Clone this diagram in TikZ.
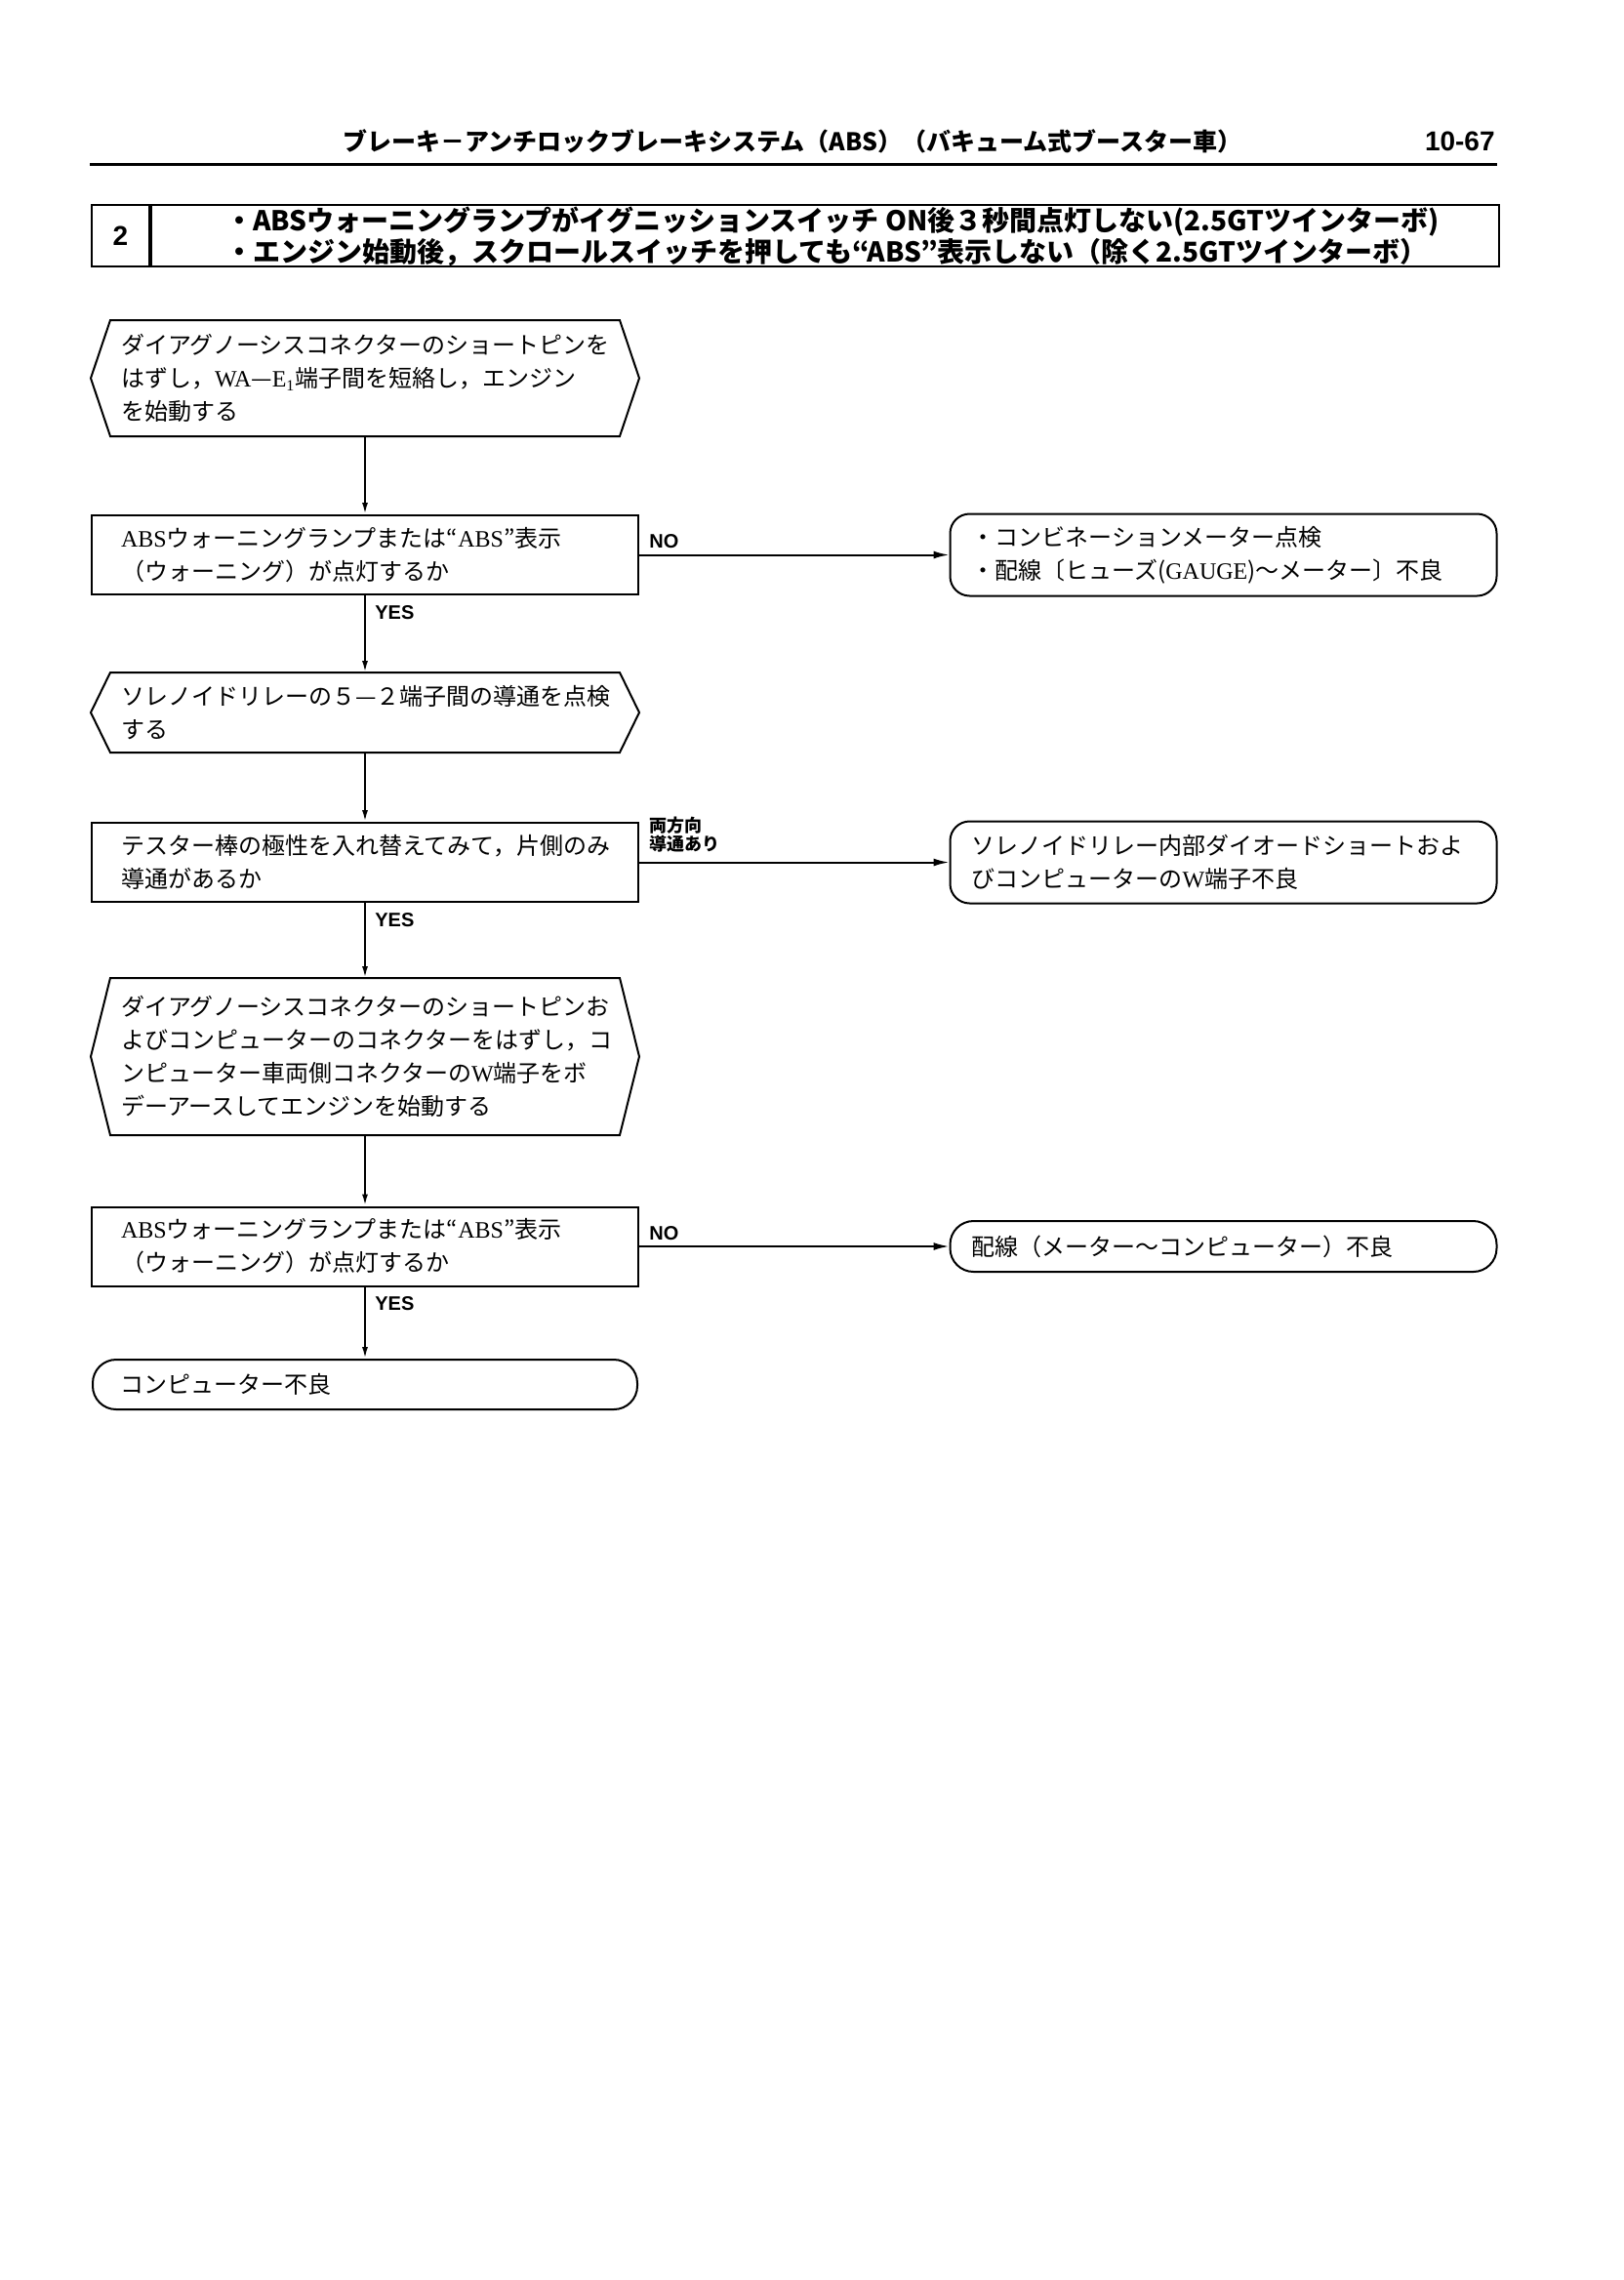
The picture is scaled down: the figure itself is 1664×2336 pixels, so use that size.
\documentclass[tikz,border=0pt]{standalone}
\usepackage{fontspec}
\usepackage{tikz}
\usetikzlibrary{positioning,arrows.meta}
\newfontfamily\jpfont{Noto Sans CJK JP}
\newfontfamily\lsans{Liberation Sans}
\newfontfamily\lserif{Liberation Serif}
\newcommand\lat[1]{{\lserif #1}}

\begin{document}
\begin{tikzpicture}[x=0.5pt,y=-0.5pt,
    every node/.style={inner sep=0pt},
    jp/.style={font=\jpfont\fontsize{12pt}{17pt}\selectfont},
    stepbox/.style={jp,draw,line width=1pt,minimum width=280pt,text width=250pt,inner xsep=15pt,align=left},
    hexbox/.style={stepbox,draw=none},
    result/.style={jp,draw,line width=1pt,rounded corners=10pt,minimum width=280pt,text width=258pt,inner xsep=11pt,align=left},
    yn/.style={font=\lsans\bfseries\fontsize{10pt}{10pt}\selectfont},
    flow/.style={line width=1pt,-{Latex[length=8pt,width=4pt]}},
    down/.style={line width=1pt,-{Latex[length=6pt,width=3pt]}}]
  \useasboundingbox[fill=white] (0,0) rectangle (1664,2336);

  % page head
  \node[font=\jpfont\bfseries\fontsize{12.5pt}{14pt}\selectfont] (head) at (812,145) {ブレーキ－アンチロックブレーキシステム（ABS）（バキューム式ブースター車）};
  \node[font=\lsans\bfseries\fontsize{14pt}{14pt}\selectfont,anchor=east] (page) at (1532,145) {10-67};
  \draw[line width=1.5pt] (92,168) -- (1534,168);

  % trouble title
  \node[draw,line width=1pt,minimum width=29.5pt,minimum height=31.5pt,font=\lsans\bfseries\fontsize{14pt}{14pt}\selectfont] (num) at (123.5,241.5) {2};
  \node[draw,line width=1pt,minimum width=690.5pt,minimum height=31.5pt,right=0pt of num] (title) {};
  \node[anchor=west,align=left,font=\jpfont\bfseries\fontsize{14pt}{14pt}\selectfont] (titletext) at (231,242)
    {・ABSウォーニングランプがイグニッションスイッチ ON後３秒間点灯しない(2.5GTツインターボ)\\
     ・エンジン始動後，スクロールスイッチを押しても“ABS”表示しない（除く2.5GTツインターボ）};

  % steps
  \node[hexbox,minimum height=58.5pt] (s1) at (374,387.5)
    {ダイアグノーシスコネクターのショートピンを\\はずし，\lat{WA}—\lat{E\textsubscript{1}}端子間を短絡し，エンジン\\を始動する};
  \node[stepbox,minimum height=40.5pt] (b2) at (374,568.5)
    {\lat{ABS}ウォーニングランプまたは“\lat{ABS}”表示\\（ウォーニング）が点灯するか};
  \node[result,minimum height=42pt] (r1) at (1253.5,568.5)
    {・コンビネーションメーター点検\\・配線〔ヒューズ(\lat{GAUGE})～メーター〕不良};
  \node[hexbox,minimum height=40pt] (s3) at (374,730)
    {\mbox{ソレノイドリレーの５—２端子間の導通を点検}\\する};
  \node[stepbox,minimum height=40.5pt] (b4) at (374,883.5)
    {テスター棒の極性を入れ替えてみて，片側のみ\\導通があるか};
  \node[result,minimum height=42pt] (r2) at (1253.5,883.5)
    {ソレノイドリレー内部ダイオードショートおよ\\びコンピューターの\lat{W}端子不良};
  \node[hexbox,minimum height=79.5pt] (s5) at (374,1082.5)
    {ダイアグノーシスコネクターのショートピンお\\よびコンピューターのコネクターをはずし，コ\\ンピューター車両側コネクターの\lat{W}端子をボ\\デーアースしてエンジンを始動する};
  \node[stepbox,minimum height=40.5pt] (b6) at (374,1277)
    {\lat{ABS}ウォーニングランプまたは“\lat{ABS}”表示\\（ウォーニング）が点灯するか};
  \node[result,rounded corners=12pt,minimum height=26pt] (r3) at (1253.5,1277)
    {配線（メーター～コンピューター）不良};
  \node[result,rounded corners=12pt,minimum width=279pt,text width=251pt,inner xsep=14pt,minimum height=25.5pt] (r4) at (374,1418.5)
    {コンピューター不良};

  \foreach \n in {s1,s3,s5}
    \draw[line width=1pt] ([xshift=10pt]\n.north west) -- ([xshift=-10pt]\n.north east) -- (\n.east)
      -- ([xshift=-10pt]\n.south east) -- ([xshift=10pt]\n.south west) -- (\n.west) -- cycle;

  % connectors
  \draw[down] (s1) -- (b2);
  \draw[down] (b2) -- (s3);
  \draw[down] (s3) -- (b4);
  \draw[down] (b4) -- (s5);
  \draw[down] (s5) -- (b6);
  \draw[down] (b6) -- (r4);
  \draw[flow] (b2) -- (r1);
  \draw[flow] (b4) -- (r2);
  \draw[flow] (b6) -- (r3);

  \node[yn,above right=3pt and 5pt of b2.east] (no1) {NO};
  \node[yn,below right=5pt and 5pt of b2.south] (yes1) {YES};
  \node[font=\jpfont\bfseries\fontsize{9pt}{9.5pt}\selectfont,align=left,above right=5pt and 5pt of b4.east] (both) {両方向\\導通あり};
  \node[yn,below right=5pt and 5pt of b4.south] (yes2) {YES};
  \node[yn,above right=3pt and 5pt of b6.east] (no2) {NO};
  \node[yn,below right=5pt and 5pt of b6.south] (yes3) {YES};
\end{tikzpicture}
\end{document}
